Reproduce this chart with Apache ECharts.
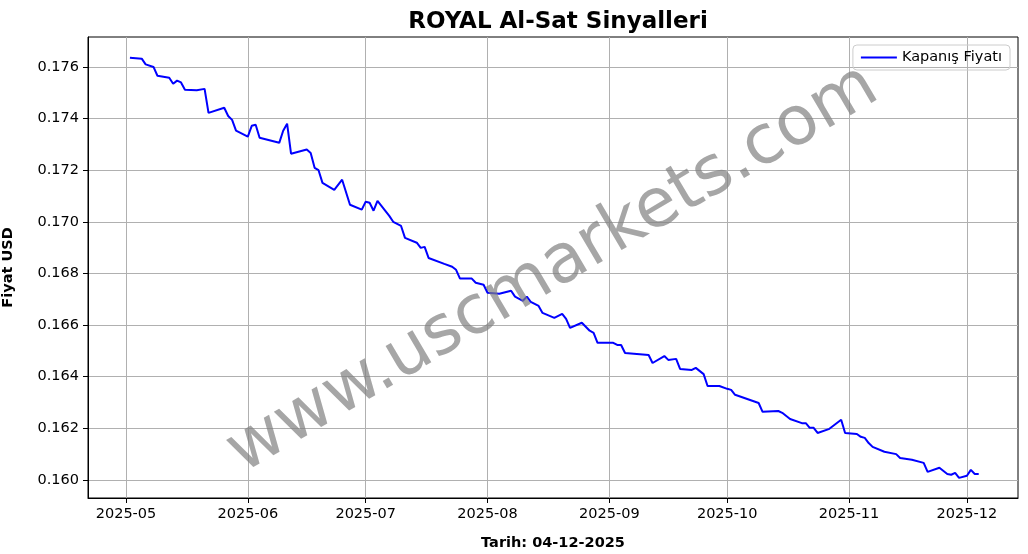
<!DOCTYPE html>
<html><head><meta charset="utf-8">
<script src="https://cdn.jsdelivr.net/npm/echarts@6/dist/echarts.min.js"></script>
<style>html,body{margin:0;background:#fff}#main{width:1028px;height:554px}</style>
</head><body><div id="main"></div>
<script>
var dates = ['2025-05-02','2025-05-05','2025-05-06','2025-05-08','2025-05-09','2025-05-12','2025-05-13','2025-05-14','2025-05-15','2025-05-16',
'2025-05-19','2025-05-21','2025-05-22','2025-05-26','2025-05-27','2025-05-28','2025-05-29','2025-06-01','2025-06-02','2025-06-03',
'2025-06-04','2025-06-09','2025-06-10','2025-06-11','2025-06-12','2025-06-16','2025-06-17','2025-06-18','2025-06-19','2025-06-20',
'2025-06-23','2025-06-25','2025-06-27','2025-06-30','2025-07-01','2025-07-02','2025-07-03','2025-07-04','2025-07-07','2025-07-08',
'2025-07-10','2025-07-11','2025-07-14','2025-07-15','2025-07-16','2025-07-17','2025-07-21','2025-07-23','2025-07-24','2025-07-25',
'2025-07-28','2025-07-29','2025-07-31','2025-08-01','2025-08-04','2025-08-07','2025-08-08','2025-08-10','2025-08-11','2025-08-12',
'2025-08-14','2025-08-15','2025-08-18','2025-08-20','2025-08-21','2025-08-22','2025-08-25','2025-08-27','2025-08-28','2025-08-29',
'2025-09-02','2025-09-03','2025-09-04','2025-09-05','2025-09-08','2025-09-11','2025-09-12','2025-09-15','2025-09-16','2025-09-18',
'2025-09-19','2025-09-22','2025-09-23','2025-09-25','2025-09-26','2025-09-29','2025-10-01','2025-10-02','2025-10-03','2025-10-09',
'2025-10-10','2025-10-14','2025-10-15','2025-10-17','2025-10-20','2025-10-21','2025-10-22','2025-10-23','2025-10-24','2025-10-27',
'2025-10-30','2025-10-31','2025-11-03','2025-11-04','2025-11-05','2025-11-06','2025-11-07','2025-11-10','2025-11-13','2025-11-14',
'2025-11-17','2025-11-20','2025-11-21','2025-11-24','2025-11-26','2025-11-27','2025-11-28','2025-11-29','2025-12-01','2025-12-02',
'2025-12-03','2025-12-04'];
var closes = [0.17636,0.17632,0.1761,0.1760,0.17566,0.17558,0.17535,0.17547,0.1754,0.17512,
0.1751,0.17515,0.17422,0.17442,0.1741,0.17395,0.17353,0.1733,0.17372,0.17376,
0.17326,0.17306,0.17353,0.1738,0.17264,0.1728,0.17267,0.17209,0.1720,0.17151,
0.17124,0.17163,0.17066,0.17047,0.17078,0.17074,0.17043,0.17081,0.17023,0.1700,
0.16984,0.16938,0.16919,0.16899,0.16903,0.1686,0.16837,0.16826,0.16814,0.1678,
0.1678,0.16764,0.16756,0.16725,0.16721,0.16733,0.1671,0.16694,0.1671,0.1669,
0.16674,0.16647,0.16628,0.16643,0.16624,0.16589,0.16609,0.16578,0.1657,0.16531,
0.16531,0.16523,0.16523,0.16492,0.16488,0.16484,0.16453,0.1648,0.16465,0.16469,
0.1643,0.16426,0.16434,0.1641,0.16364,0.16364,0.16353,0.16349,0.1633,0.16298,
0.16264,0.16267,0.1626,0.16236,0.1622,0.1622,0.16202,0.16202,0.16182,0.16198,
0.16233,0.16182,0.16178,0.16167,0.16163,0.16143,0.16128,0.16109,0.161,0.16085,
0.16078,0.16066,0.16031,0.16047,0.16023,0.1602,0.16027,0.16008,0.16016,0.16039,
0.16023,0.16023];
var monthTicks = ['2025-05-01','2025-06-01','2025-07-01','2025-08-01','2025-09-01','2025-10-01','2025-11-01','2025-12-01'];
var yTicks = [0.160,0.162,0.164,0.166,0.168,0.170,0.172,0.174,0.176];

var F = 'DejaVu Sans';
// days since 2025-05-01
var T0 = +new Date('2025-05-01T00:00:00Z');
function day(d) { return (+new Date(d + 'T00:00:00Z') - T0) / 86400e3; }
var xTicks = monthTicks.map(day);
var chart = echarts.init(document.getElementById('main'));
var option = {
    animation: false,
    title: { text: 'ROYAL Al-Sat Sinyalleri', left: 553, top: 6, textAlign: 'center',
        textStyle: { fontFamily: F, fontSize: 23, fontWeight: 'bold', color: '#000' } },
    legend: { right: 18, top: 45, itemWidth: 36, itemHeight: 2, icon: 'rect', itemGap: 10,
        borderColor: '#ccc', borderWidth: 1, borderRadius: 4, padding: [5, 8],
        textStyle: { fontFamily: F, fontSize: 14.5, color: '#000' } },
    grid: { left: 88, right: 10, top: 37, bottom: 56, outerBoundsMode: 'none', containLabel: false,
        show: true, borderColor: '#000', borderWidth: 1 },
    xAxis: {
        type: 'value',
        min: -9.67, max: 227,
        name: 'Tarih: 04-12-2025', nameLocation: 'middle', nameGap: 38,
        nameTextStyle: { fontFamily: F, fontSize: 14.5, fontWeight: 'bold', color: '#000' },
        axisLine: { onZero: false, lineStyle: { color: '#000' } },
        axisTick: { customValues: xTicks, length: 5, lineStyle: { color: '#000' } },
        axisLabel: { customValues: xTicks, fontFamily: F, fontSize: 14.5, color: '#000', margin: 9,
            formatter: function (v) { var d = new Date(T0 + v * 86400e3); return d.getUTCFullYear() + '-' + ('0' + (d.getUTCMonth() + 1)).slice(-2); } },
        splitLine: { show: true, lineStyle: { color: '#b0b0b0' } }
    },
    yAxis: {
        type: 'value', min: 0.1593, max: 0.17716,
        name: 'Fiyat USD', nameLocation: 'middle', nameGap: 72,
        nameTextStyle: { fontFamily: F, fontSize: 14.5, fontWeight: 'bold', color: '#000' },
        axisLine: { show: true, onZero: false, lineStyle: { color: '#000' } },
        axisTick: { show: true, customValues: yTicks, length: 5, lineStyle: { color: '#000' } },
        axisLabel: { customValues: yTicks, fontFamily: F, fontSize: 14.5, color: '#000', margin: 9,
            formatter: function (v) { return v.toFixed(3); } },
        splitLine: { show: true, lineStyle: { color: '#b0b0b0' } }
    },
    graphic: [{ type: 'text', x: 553, y: 270, rotation: 30.5 * Math.PI / 180,
        style: { text: 'www.uscmarkets.com', font: '68px "DejaVu Sans"', fill: 'rgba(128,128,128,0.7)',
            textAlign: 'center', textVerticalAlign: 'middle' }, z: 100 }],
    series: [{ name: 'Kapanış Fiyatı', type: 'line', showSymbol: false, symbol: 'none',
        lineStyle: { color: '#0000ff', width: 2 }, itemStyle: { color: '#0000ff' },
        data: dates.map(function (d, i) { return [day(d), closes[i]]; }) }]
};
chart.setOption(option);
</script></body></html>
